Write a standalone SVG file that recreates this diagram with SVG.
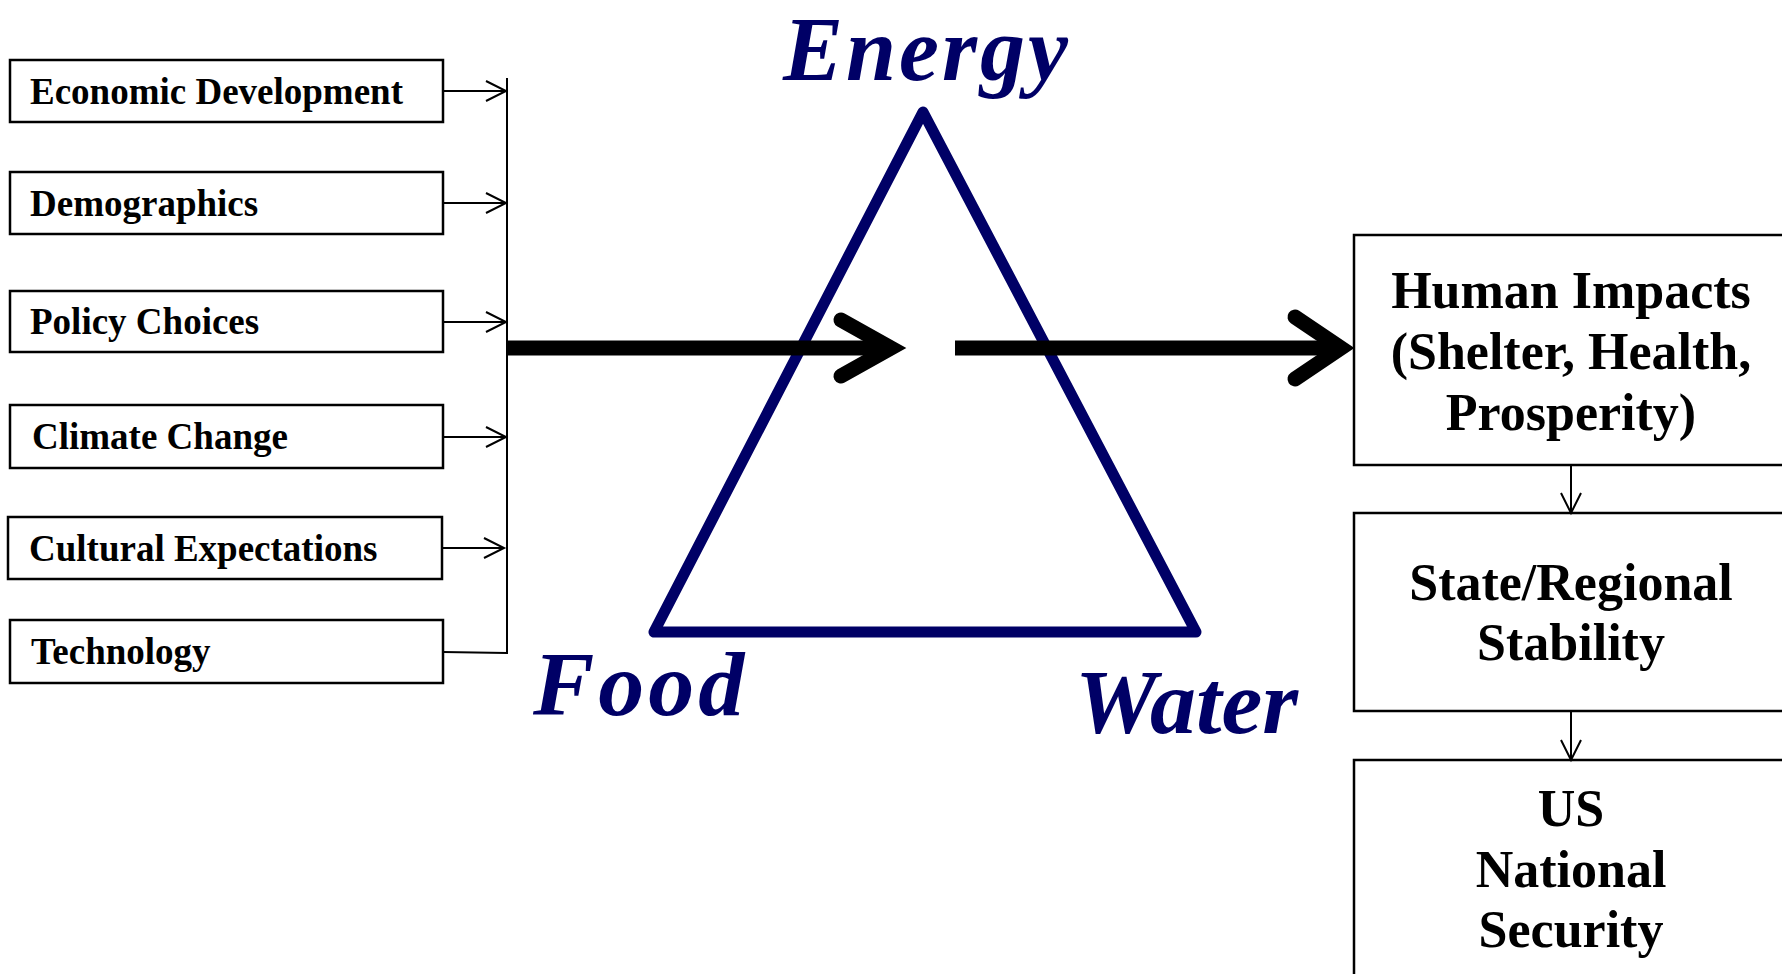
<svg xmlns="http://www.w3.org/2000/svg" width="1782" height="974" viewBox="0 0 1782 974">
<defs>
<style>
.box{fill:#fff;stroke:#000;stroke-width:2.5}
.lbl{font-family:"Liberation Serif","Times New Roman",serif;font-weight:bold;font-size:37px;fill:#000}
.big{font-family:"Liberation Serif","Times New Roman",serif;font-weight:bold;font-size:52px;fill:#000;text-anchor:middle}
.nexus{font-family:"Liberation Serif","Times New Roman",serif;font-weight:bold;font-style:italic;fill:#000066}
.thin{fill:none;stroke:#000;stroke-width:2}
.thick{fill:none;stroke:#000;stroke-width:15}
.chev{fill:none;stroke:#000;stroke-width:15;stroke-linecap:round;stroke-linejoin:miter}
</style>
<marker id="open" markerWidth="24" markerHeight="24" refX="21" refY="11" orient="auto" markerUnits="userSpaceOnUse">
<path d="M1 1 L21 11 L1 21" fill="none" stroke="#000" stroke-width="2"/>
</marker>
</defs>
<rect width="1782" height="974" fill="#fff"/>

<g id="node-economic"><rect class="box" x="10" y="60" width="433" height="62"/><text class="lbl" x="30" y="104">Economic Development</text></g>
<g id="node-demographics"><rect class="box" x="10" y="172" width="433" height="62"/><text class="lbl" x="30" y="216">Demographics</text></g>
<g id="node-policy"><rect class="box" x="10" y="291" width="433" height="61"/><text class="lbl" x="30" y="334">Policy Choices</text></g>
<g id="node-climate"><rect class="box" x="10" y="405" width="433" height="63"/><text class="lbl" x="32" y="449">Climate Change</text></g>
<g id="node-cultural"><rect class="box" x="8" y="517" width="434" height="62"/><text class="lbl" x="29" y="561">Cultural Expectations</text></g>
<g id="node-technology"><rect class="box" x="10" y="620" width="433" height="63"/><text class="lbl" x="31" y="664">Technology</text></g>

<g id="node-nexus">
<polygon points="923,112 654,632 1196,632" fill="none" stroke="#000066" stroke-width="11" stroke-linejoin="round"/>
<text class="nexus" x="927" y="80" font-size="90" letter-spacing="3" text-anchor="middle">Energy</text>
<text class="nexus" x="533" y="715" font-size="92" letter-spacing="4">Food</text>
<text class="nexus" x="1075" y="733" font-size="92">Water</text>
</g>

<g id="node-human"><rect class="box" x="1354" y="235" width="440" height="230"/>
<text class="big" x="1571" y="308">Human Impacts</text>
<text class="big" x="1571" y="369">(Shelter, Health,</text>
<text class="big" x="1571" y="430">Prosperity)</text></g>
<g id="node-state"><rect class="box" x="1354" y="513" width="440" height="198"/>
<text class="big" x="1571" y="600">State/Regional</text>
<text class="big" x="1571" y="660">Stability</text></g>
<g id="node-us"><rect class="box" x="1354" y="760" width="440" height="240"/>
<text class="big" x="1571" y="826">US</text>
<text class="big" x="1571" y="887">National</text>
<text class="big" x="1571" y="947">Security</text></g>

<g id="connectors">
<line class="thin" x1="443" y1="91" x2="506" y2="91" marker-end="url(#open)"/>
<line class="thin" x1="443" y1="203" x2="506" y2="203" marker-end="url(#open)"/>
<line class="thin" x1="443" y1="322" x2="506" y2="322" marker-end="url(#open)"/>
<line class="thin" x1="443" y1="437" x2="506" y2="437" marker-end="url(#open)"/>
<line class="thin" x1="442" y1="548" x2="504" y2="548" marker-end="url(#open)"/>
<line class="thin" x1="443" y1="652" x2="507" y2="653"/>
<line class="thin" x1="507" y1="78" x2="507" y2="654"/>
<line class="thick" x1="506" y1="348" x2="884" y2="348"/>
<polyline class="chev" points="841,320 891,348 841,376"/>
<line class="thick" x1="955" y1="348" x2="1333" y2="348"/>
<polyline class="chev" points="1295,317 1341,348 1295,379"/>
<line class="thin" x1="1571" y1="465" x2="1571" y2="513" marker-end="url(#open)"/>
<line class="thin" x1="1571" y1="711" x2="1571" y2="760" marker-end="url(#open)"/>
</g>
</svg>
